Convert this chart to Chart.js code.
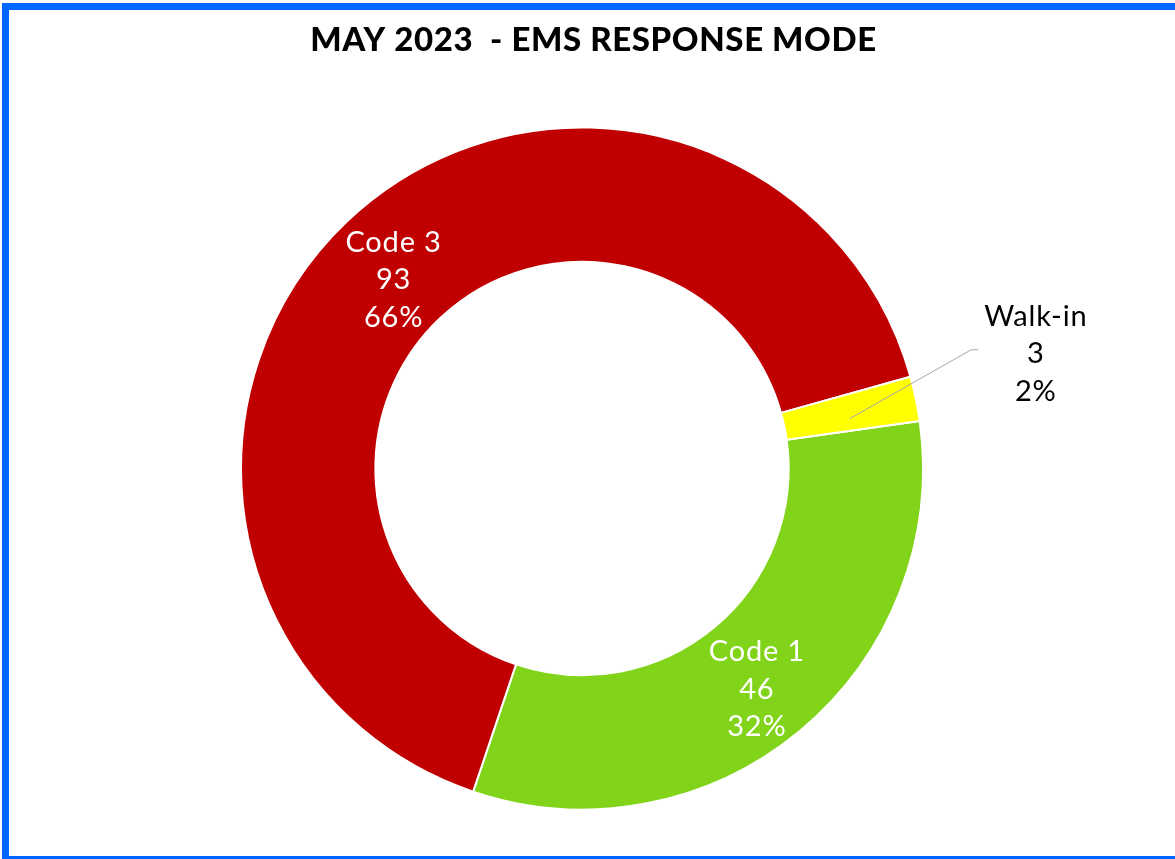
<!DOCTYPE html>
<html>
<head>
<meta charset="utf-8">
<script src="https://cdn.jsdelivr.net/npm/chart.js@4/dist/chart.umd.min.js"></script>
<style>
  html, body { margin:0; padding:0; background:#ffffff; overflow:hidden; }
  #frame { position:absolute; left:2px; top:3px; width:1200px; height:846px; border:7px solid #0066ff; border-right:none; background:#fff; }
  #wrap { position:absolute; left:0; top:0; width:1175px; height:859px; }
</style>
</head>
<body>
<div id="frame"></div>
<div id="wrap"><canvas id="c" width="1175" height="859"></canvas></div>
<script>
const titleText = 'MAY 2023  - EMS RESPONSE MODE';
const categories = ['Code 1', 'Code 3', 'Walk-in'];
const counts = [46, 93, 3];
const percentLabels = ['32%', '66%', '2%'];
const sliceColors = ['#81D41A', '#C00000', '#FFFF00'];
const labelColors = ['#ffffff', '#ffffff', '#000000'];
const outsideLabel = [false, false, true];

const FONT = 'Lato, "Noto Sans", sans-serif';

const titlePlugin = {
  id: 'customTitle',
  afterDraw(chart) {
    const ctx = chart.ctx;
    ctx.save();
    ctx.font = '900 33px ' + FONT;
    ctx.letterSpacing = '0.6px';
    ctx.fillStyle = '#000';
    ctx.textAlign = 'center';
    ctx.textBaseline = 'alphabetic';
    ctx.fillText(titleText, chart.width / 2 + 6, 51);
    ctx.restore();
  }
};

const labelPlugin = {
  id: 'sliceLabels',
  afterDatasetsDraw(chart) {
    const ctx = chart.ctx;
    const meta = chart.getDatasetMeta(0);
    ctx.save();
    ctx.font = '29px ' + FONT;
    ctx.letterSpacing = '0.8px';
    ctx.textAlign = 'center';
    ctx.textBaseline = 'alphabetic';
    const lh = 37.5, capHalf = 10.5;
    meta.data.forEach((arc, i) => {
      const p = arc.getProps(['x', 'y', 'startAngle', 'endAngle', 'innerRadius', 'outerRadius'], true);
      const mid = (p.startAngle + p.endAngle) / 2;
      const rMid = (p.innerRadius + p.outerRadius) / 2;
      const cx = p.x + Math.cos(mid) * rMid;
      const cy = p.y + Math.sin(mid) * rMid;
      const lines = [categories[i], String(counts[i]), percentLabels[i]];
      let lx = cx, ly = cy + 9;
      if (outsideLabel[i]) {
        const ox = p.x + Math.cos(mid) * p.outerRadius;
        const oy = p.y + Math.sin(mid) * p.outerRadius;
        lx = ox + 120;
        ly = oy - 46;
        const w = ctx.measureText(lines[0]).width;
        const ex = lx - w / 2 - 6;
        const ey = ly - 3;
        ctx.strokeStyle = '#a6a6a6';
        ctx.lineWidth = 1;
        ctx.beginPath();
        ctx.moveTo(cx, cy + 6);
        ctx.lineTo(ex - 7, ey);
        ctx.lineTo(ex, ey);
        ctx.stroke();
      }
      ctx.fillStyle = labelColors[i];
      lines.forEach((t, k) => {
        ctx.fillText(t, lx, ly + (k - 1) * lh + capHalf);
      });
    });
    ctx.restore();
  }
};

new Chart(document.getElementById('c'), {
  type: 'doughnut',
  data: {
    labels: categories,
    datasets: [{
      data: counts,
      backgroundColor: sliceColors,
      borderColor: '#ffffff',
      borderWidth: 2,
      hoverOffset: 0
    }]
  },
  options: {
    responsive: false,
    animation: false,
    rotation: 82,
    cutout: '60.6%',
    radius: 341,
    layout: { padding: { left: 0, right: 11, top: 100, bottom: 22 } },
    plugins: {
      legend: { display: false },
      title: { display: false },
      tooltip: { enabled: false }
    }
  },
  plugins: [labelPlugin, titlePlugin]
});
</script>
</body>
</html>
